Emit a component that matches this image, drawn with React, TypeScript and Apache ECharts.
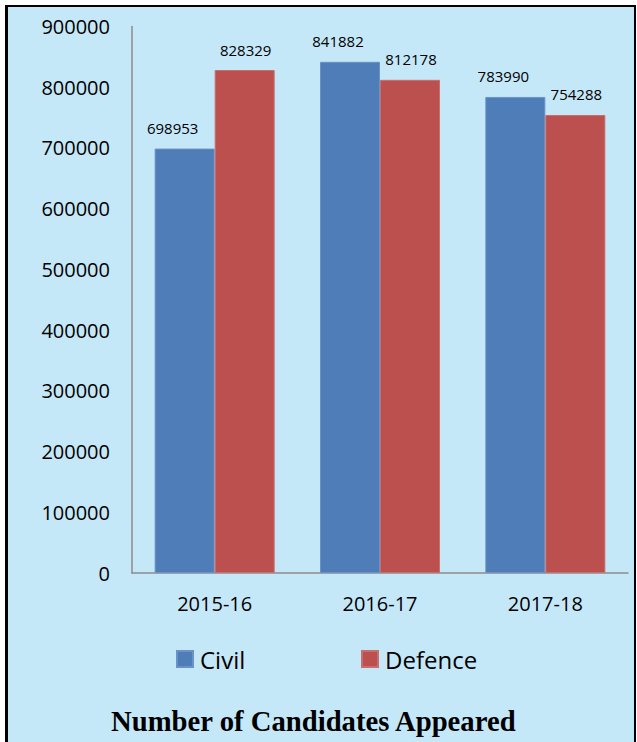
import React, { useEffect, useRef } from "react";
import * as echarts from "echarts";

const categories = ["2015-16", "2016-17", "2017-18"];
const civil = [698953, 841882, 783990];
const defence = [828329, 812178, 754288];
const yTicks = { min: 0, max: 900000, interval: 100000 };
const titleText = "Number of Candidates Appeared";

export default function App() {
  const ref = useRef<HTMLDivElement>(null);
  useEffect(() => {
    document.body.style.margin = "0";
    const chart = echarts.init(ref.current!, undefined, { renderer: "svg" });
    const font = "'Open Sans', 'Noto Sans', sans-serif";
    chart.setOption({
      animation: false,
      backgroundColor: "transparent",
      title: {
        text: titleText,
        left: 111,
        top: 706,
        padding: 0,
        textStyle: {
          fontFamily: "'Liberation Serif', 'Times New Roman', serif",
          fontWeight: "bold",
          fontSize: 28.7,
          color: "#000",
        },
      },
      legend: [
        {
          data: ["Civil"],
          left: 176,
          top: 647,
          padding: 0,
          itemWidth: 16,
          itemHeight: 16,
          icon: "rect",
          textStyle: { fontFamily: font, fontSize: 24, color: "#000", padding: [0, 0, 0, 2] },
        },
        {
          data: ["Defence"],
          left: 361,
          top: 647,
          padding: 0,
          itemWidth: 16,
          itemHeight: 16,
          icon: "rect",
          textStyle: { fontFamily: font, fontSize: 24, color: "#000", padding: [0, 0, 0, 2] },
        },
      ],
      grid: { left: 132, right: 9, top: 26.5, bottom: 169, containLabel: false },
      xAxis: {
        type: "category",
        data: categories,
        axisLine: { lineStyle: { color: "#8c8c8c", width: 1.5 } },
        axisTick: { show: false },
        axisLabel: { fontFamily: font, fontSize: 20, color: "#000", margin: 20 },
      },
      yAxis: {
        type: "value",
        min: yTicks.min,
        max: yTicks.max,
        interval: yTicks.interval,
        axisLine: { show: true, lineStyle: { color: "#8c8c8c", width: 1.5 } },
        axisTick: { show: false },
        splitLine: { show: false },
        axisLabel: {
          fontFamily: font,
          fontSize: 20,
          color: "#000",
          margin: 22,
          formatter: (v: number) => String(v),
        },
      },
      series: [
        {
          name: "Civil",
          type: "bar",
          data: civil,
          barWidth: 60,
          barGap: "0%",
          itemStyle: { color: "#4E7DB8", borderColor: "#6A92C6", borderWidth: 1 },
          label: {
            show: true,
            position: "top",
            distance: 13,
            offset: [-12, 0],
            fontFamily: font,
            fontSize: 15,
            color: "#000",
          },
        },
        {
          name: "Defence",
          type: "bar",
          data: defence,
          barWidth: 60,
          barGap: "0%",
          itemStyle: { color: "#BB504E", borderColor: "#C96E6C", borderWidth: 1 },
          label: {
            show: true,
            position: "top",
            distance: 13,
            offset: [1, 0],
            fontFamily: font,
            fontSize: 15,
            color: "#000",
          },
        },
      ],
    });
    return () => chart.dispose();
  }, []);
  return (
    <div style={{ position: "relative", width: 637, height: 742, background: "#fff", overflow: "hidden" }}>
      <div
        style={{
          position: "absolute",
          left: 5,
          top: 5,
          width: 631,
          height: 745,
          background: "#C5E8F8",
          borderLeft: "3px solid #000",
          borderTop: "2.5px solid #000",
          borderRight: "2px solid #000",
          boxSizing: "border-box",
        }}
      />
      <div ref={ref} style={{ position: "absolute", left: 0, top: 0, width: 637, height: 742 }} />
    </div>
  );
}
